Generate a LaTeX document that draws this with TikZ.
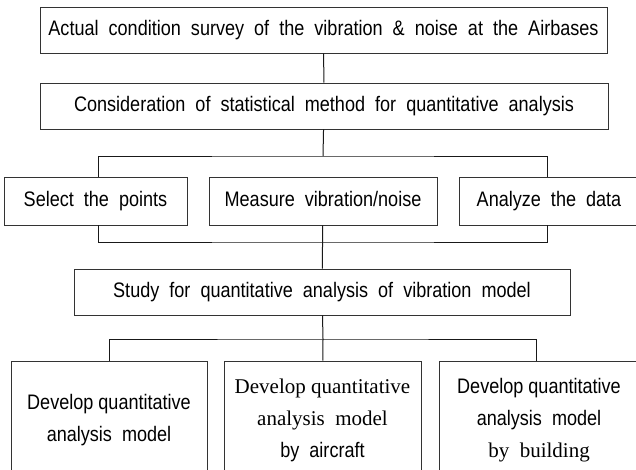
\documentclass[tikz,border=0pt]{standalone}
\usepackage{fontspec}
\setmainfont{Liberation Sans}[FakeStretch=0.86]
\newfontfamily\serifpart{Liberation Serif}
\usetikzlibrary{calc}

\tikzset{
  flowbox/.style={draw=black!80,line width=0.9pt,inner sep=0pt,align=center,
    font=\fontsize{21}{32}\selectfont},
  oneline/.style={text height=15pt,text depth=5pt},
  link/.style={draw=black!90,line width=1pt}
}

\begin{document}
\begin{tikzpicture}[x=1pt,y=-1pt]
\useasboundingbox (0,0) rectangle (636,469);
\clip (0,0) rectangle (636,469);

% survey and method
\node[flowbox,oneline,minimum width=567,minimum height=46] (surv) at (323.5,30)
  {Actual\ \ condition\ \ survey\ \ of\ \ the\ \ vibration\ \ \&\ \ noise\ \ at\ \ the\ \ Airbases};
\node[flowbox,oneline,minimum width=568,minimum height=46] (cons) at (324,106)
  {Consideration\ \ of\ \ statistical\ \ method\ \ for\ \ quantitative\ \ analysis};

% field work
\node[flowbox,oneline,minimum width=183,minimum height=48] (sel) at (95.5,201) {Select\ \ the\ \ points};
\node[flowbox,oneline,minimum width=228,minimum height=48] (meas) at (323,201) {Measure\ \ vibration/noise};
\node[flowbox,oneline,minimum width=180,minimum height=48] (ana) at (549,201) {Analyze\ \ the\ \ data};

\node[flowbox,oneline,minimum width=496,minimum height=46] (study) at (322,292)
  {Study\ \ for\ \ quantitative\ \ analysis\ \ of\ \ vibration\ \ model};

% models
\node[flowbox,minimum width=196,minimum height=118] (dev1) at (109,420)
  {Develop quantitative\\analysis\ \ model};
\node[flowbox,minimum width=197,minimum height=118] (dev2) at (322.5,420)
  {{\serifpart Develop quantitative}\\{\serifpart analysis\ \ model}\\by\ \ aircraft};
\node[flowbox,minimum width=200,minimum height=118] (dev3) at (539,420)
  {Develop quantitative\\analysis\ \ model\\{\serifpart by\ \ building}};

\coordinate (fork1) at (323,156);
\coordinate (fork2) at (323,242);
\coordinate (fork3) at (323,339);

\draw[link] (surv) -- (cons);
\draw[link] (cons) -- (fork1);
\draw[link] ([xshift=3pt]sel.north) |- (fork1) -| ([xshift=-2pt]ana.north);
\draw[link] ([xshift=3pt]sel.south) |- (fork2) -| ([xshift=-2pt]ana.south);
\draw[link] (meas) -- (study);
\draw[link] (study) -- (fork3);
\draw[link] (dev1.north) |- (fork3) -| ([xshift=-3pt]dev3.north);
\draw[link] (fork3) -- (dev2);
\end{tikzpicture}
\end{document}
